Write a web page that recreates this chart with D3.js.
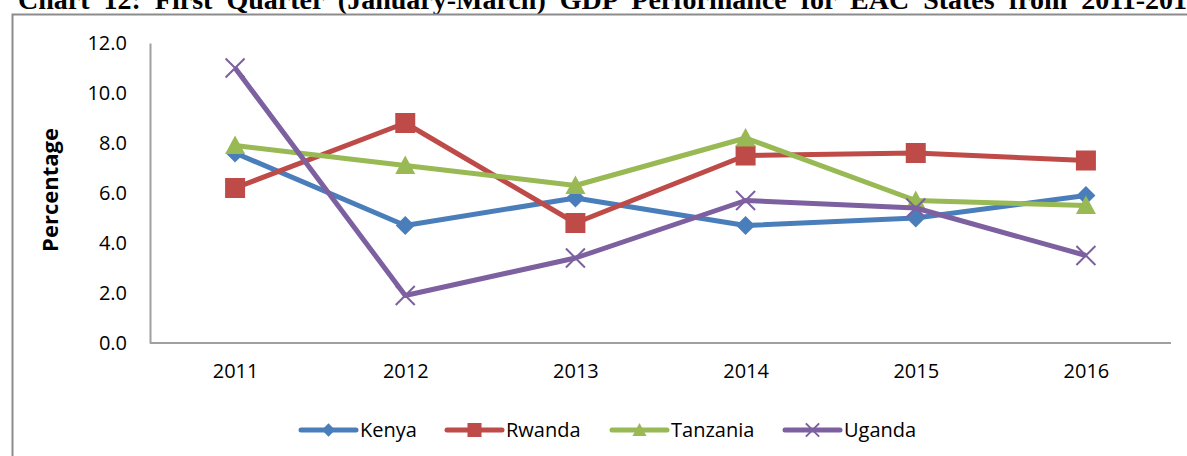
<!DOCTYPE html>
<html>
<head>
<meta charset="utf-8">
<script src="https://cdn.jsdelivr.net/npm/d3@7"></script>
<style>
  body { margin: 0; background: #fff; }
  svg { display: block; }
</style>
</head>
<body>
<svg id="chart" width="1187" height="456"></svg>
<script>
// data
const years = ["2011", "2012", "2013", "2014", "2015", "2016"]
const kenya = [7.6, 4.7, 5.8, 4.7, 5.0, 5.9]
const rwanda = [6.2, 8.8, 4.8, 7.5, 7.6, 7.3]
const tanzania = [7.9, 7.1, 6.3, 8.2, 5.7, 5.5]
const uganda = [11.0, 1.9, 3.4, 5.7, 5.4, 3.5]
const yTicks = [0, 2, 4, 6, 8, 10, 12]
const seriesNames = ["Kenya", "Rwanda", "Tanzania", "Uganda"]

const series = [
  { name: seriesNames[0], values: kenya, color: "#4a7ebb", marker: "diamond" },
  { name: seriesNames[1], values: rwanda, color: "#be4b48", marker: "square" },
  { name: seriesNames[2], values: tanzania, color: "#98b954", marker: "triangle" },
  { name: seriesNames[3], values: uganda, color: "#7d60a0", marker: "cross" }
]

const svg = d3.select("#chart"),
      plotLeft = 150, plotRight = 1171,   // plot box
      plotTop = 43, plotBottom = 343,
      font = "'Open Sans', sans-serif"

// title, the page crops its upper half just like the source image
svg.append("text")
  .attr("x", 18).attr("y", 9)
  .attr("font-family", "'Liberation Serif', serif")
  .attr("font-weight", "bold")
  .attr("font-size", 28)
  .attr("word-spacing", 7)
  .text("Chart 12: First Quarter (January-March) GDP Performance for EAC States from 2011-2016")

// outer chart frame
svg.append("path")
  .attr("d", "M12.5,470 L12.5,14.5 L1200,14.5")
  .attr("fill", "none")
  .attr("stroke", "#8c8c8c")
  .attr("stroke-width", 2)

const x = d3.scalePoint().domain(years).range([plotLeft, plotRight]).padding(0.5)
const y = d3.scaleLinear().domain([0, 12]).range([plotBottom, plotTop])

// y axis
const yAxis = svg.append("g")
  .attr("transform", `translate(${plotLeft},0)`)
  .call(d3.axisLeft(y).tickValues(yTicks).tickFormat(d3.format(".1f")).tickSize(0).tickPadding(23))
yAxis.select(".domain").attr("stroke", "#a0a0a0").attr("stroke-width", 2)
yAxis.selectAll("text").attr("font-family", font).attr("font-size", 20).attr("fill", "#000")

// x axis
const xAxis = svg.append("g")
  .attr("transform", `translate(0,${plotBottom})`)
  .call(d3.axisBottom(x).tickSize(0).tickPadding(21))
xAxis.select(".domain").attr("d", `M${plotLeft},0H${plotRight}`).attr("stroke", "#a0a0a0").attr("stroke-width", 2)
xAxis.selectAll("text").attr("font-family", font).attr("font-size", 20).attr("fill", "#000")

// axis title
svg.append("text")
  .attr("transform", "translate(58,190) rotate(-90)")
  .attr("text-anchor", "middle")
  .attr("font-family", font)
  .attr("font-weight", "bold")
  .attr("font-size", 22)
  .text("Percentage")

function drawMarker(g, type, cx, cy, color, s) {
  if (type == "diamond") {
    let r = 9.5 * s
    g.append("path").attr("d", `M${cx},${cy - r}L${cx + r},${cy}L${cx},${cy + r}L${cx - r},${cy}Z`).attr("fill", color)
  } else if (type == "square") {
    let h = 10 * s
    g.append("rect").attr("x", cx - h).attr("y", cy - h).attr("width", 2 * h).attr("height", 2 * h).attr("fill", color)
  } else if (type == "triangle") {
    let h = 10 * s
    g.append("path").attr("d", `M${cx},${cy - h}L${cx + h},${cy + h * 0.85}L${cx - h},${cy + h * 0.85}Z`).attr("fill", color)
  } else {
    let h = 9.5 * s
    g.append("path").attr("d", `M${cx - h},${cy - h}L${cx + h},${cy + h}M${cx - h},${cy + h}L${cx + h},${cy - h}`)
      .attr("stroke", color).attr("stroke-width", 2)
  }
}

const line = d3.line().x((d, i) => x(years[i])).y(d => y(d))

series.forEach(s => {
  let g = svg.append("g")
  g.append("path")
    .attr("d", line(s.values))
    .attr("fill", "none")
    .attr("stroke", s.color)
    .attr("stroke-width", 5)
    .attr("stroke-linejoin", "round")
  s.values.forEach((v, i) => drawMarker(g, s.marker, x(years[i]), y(v), s.color, 1))
})

// legend
const legendX = [301, 447, 612, 785], legendY = 430
series.forEach((s, i) => {
  let g = svg.append("g")
  g.append("line")
    .attr("x1", legendX[i]).attr("x2", legendX[i] + 55)
    .attr("y1", legendY).attr("y2", legendY)
    .attr("stroke", s.color).attr("stroke-width", 5).attr("stroke-linecap", "round")
  drawMarker(g, s.marker, legendX[i] + 27.5, legendY, s.color, 0.7)
  g.append("text")
    .attr("x", legendX[i] + 59).attr("y", legendY + 7)
    .attr("font-family", font).attr("font-size", 20)
    .text(s.name)
})
</script>
</body>
</html>
